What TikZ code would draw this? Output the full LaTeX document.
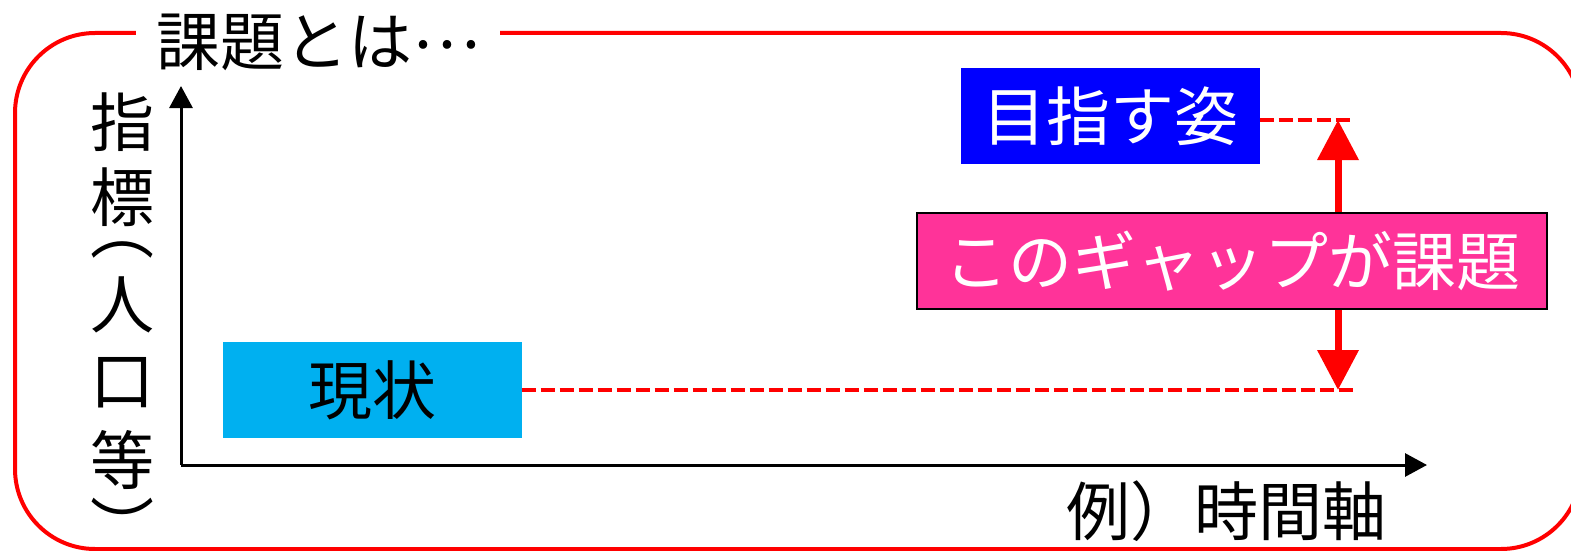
\documentclass[tikz,border=0pt]{standalone}
\usepackage{fontspec}
\setmainfont{Noto Sans CJK JP}
\usetikzlibrary{arrows.meta,calc}

\definecolor{genjoblue}{RGB}{0,176,240}
\definecolor{gappink}{RGB}{255,51,153}

\begin{document}
\begin{tikzpicture}[x=1pt,y=-1pt,
    jp/.style={inner sep=0pt,font=\fontsize{64}{70}\selectfont},
    box/.style={jp,minimum width=299pt,minimum height=96pt},
    gapline/.style={red,line width=4pt,dash pattern=on 14pt off 5pt},
    axis/.style={line width=3pt,-{Triangle[width=23pt,length=22pt]}}]
    \useasboundingbox (0,0) rectangle (1571,551);

		% frame
		\draw [red,line width=4pt,rounded corners=80pt] (15,33) rectangle (1581,549);
		\node [jp,fill=white,inner xsep=20pt,inner ysep=6pt] (title) at (318,42) {課題とは\raisebox{0.26em}[0pt][0pt]{…}};

		\coordinate (O) at (181,465);
		\coordinate (Xend) at (1427,465);
		\coordinate (Yend) at (181,86);
		\draw [axis] (O) -- (Yend);
		\draw [axis] (O) -- (Xend);

		\foreach \ch/\yy [count=\i] in {指/122,標/197,︵/250,人/305,口/383,等/460,︶/525}
			\node [jp] (tate\i) at (122,\yy) {\ch};
		\node [jp] (xlabel) at (1226,511) {例）時間軸};

		% boxes
		\node [box,fill=genjoblue] (genjo) at (372,390) {現状};
		\node [box,fill=blue,text=white] (mezasu) at (1110,116) {目指す姿};

		\coordinate (top) at (1353,120);
		\coordinate (bottom) at (1357,390);
		\draw [gapline] (genjo.east) -- (bottom);
		\draw [gapline] (mezasu.east |- top) -- (top);

		\coordinate (A) at (1338,390);
		\coordinate (B) at (1338,120);
		\draw [red,line width=7pt,{Triangle[width=40pt,length=40pt]}-{Triangle[width=40pt,length=40pt]}] (A) -- (B);

		\node [jp,fill=gappink,text=white,draw=black,line width=1.5pt,minimum width=630pt,minimum height=96pt] (gap) at (1232,261) {このギャップが課題};

\end{tikzpicture}
\end{document}
